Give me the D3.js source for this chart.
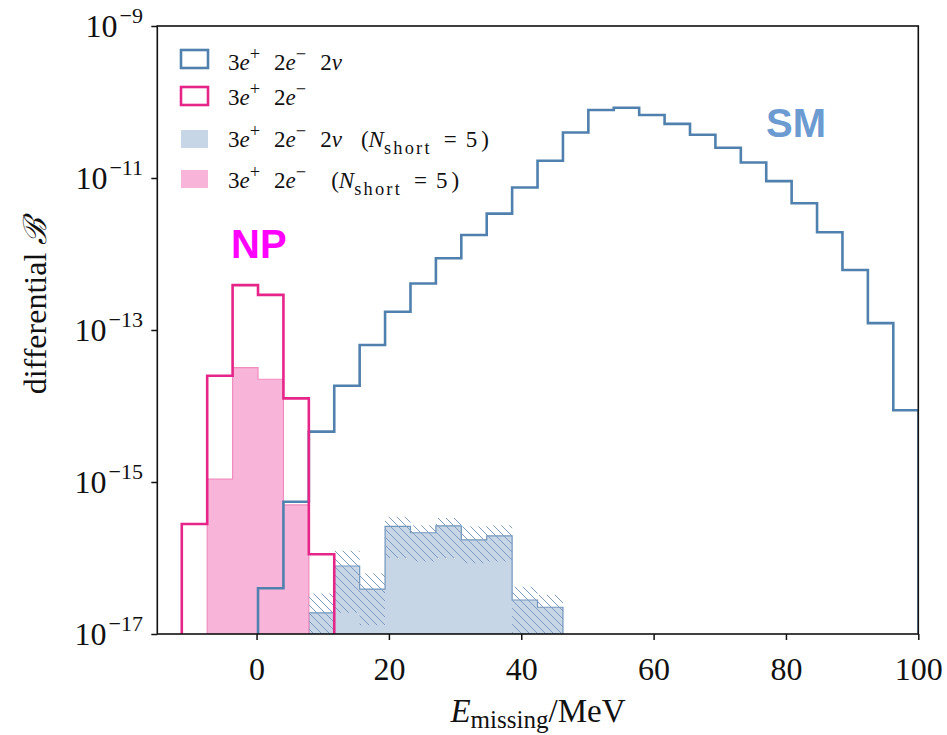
<!DOCTYPE html>
<html>
<head>
<meta charset="utf-8">
<script src="https://cdn.jsdelivr.net/npm/d3@7"></script>
<style>
  body { margin: 0; background: #fff; }
  text { font-family: "Liberation Serif", "DejaVu Serif", serif; fill: #111; }
</style>
</head>
<body>
<svg id="chart" width="947" height="735"></svg>
<script>
// bin edges of the histograms (MeV)
var binEdges = [-11.3, -7.46, -3.62, 0.22, 4.06, 7.9, 11.74, 15.58, 19.42, 23.26, 27.1,
    30.94, 34.78, 38.62, 42.46, 46.3, 50.14, 53.98, 57.82, 61.66, 65.5, 69.34, 73.18,
    77.02, 80.86, 84.7, 88.54, 92.38, 96.22, 100.06];

// 3e+ 2e- 2nu (SM), outline
var smValues = [null, null, null, 4.0e-17, 5.5e-16, 4.6e-15, 1.85e-14, 6.35e-14, 1.74e-13,
    4.1e-13, 8.8e-13, 1.78e-12, 3.4e-12, 7.5e-12, 1.69e-11, 3.97e-11, 7.85e-11, 8.4e-11,
    6.75e-11, 5.15e-11, 3.7e-11, 2.5e-11, 1.6e-11, 9.1e-12, 4.65e-12, 1.93e-12, 6.15e-13,
    1.23e-13, 8.8e-15];

// 3e+ 2e- (NP), outline
var npValues = [2.8e-16, 2.5e-14, 3.9e-13, 2.9e-13, 1.26e-14, 1.12e-16, null, null, null,
    null, null, null, null, null, null, null, null, null, null, null, null, null, null,
    null, null, null, null, null, null];

// 3e+ 2e- 2nu (N_short = 5), filled, with band
var smShortValues = [null, null, null, null, null, 1.9e-17, 7.85e-17, 3.9e-17, 2.6e-16,
    2.15e-16, 2.65e-16, 1.73e-16, 1.95e-16, 2.8e-17, 2.25e-17, null, null, null, null,
    null, null, null, null, null, null, null, null, null, null];
var smShortLower = [null, null, null, null, null, 1e-18, 1.9e-17, 1.3e-17, 1.0e-16,
    0.9e-16, 1.0e-16, 0.85e-16, 0.9e-16, 1e-18, 1e-18, null, null, null, null,
    null, null, null, null, null, null, null, null, null, null];
var smShortUpper = [null, null, null, null, null, 3.4e-17, 1.25e-16, 6.3e-17, 3.5e-16,
    2.7e-16, 3.35e-16, 2.6e-16, 2.7e-16, 4.2e-17, 3.25e-17, null, null, null, null,
    null, null, null, null, null, null, null, null, null, null];

// 3e+ 2e- (N_short = 5), filled
var npShortValues = [null, 1.09e-15, 3.2e-14, 2.25e-14, 5.0e-16, null, null, null, null,
    null, null, null, null, null, null, null, null, null, null, null, null, null, null,
    null, null, null, null, null, null];

var xTicks = [0, 20, 40, 60, 80, 100];
var yTickExps = [-9, -11, -13, -15, -17];

var colSM = '#5081ae', colNP = '#e62589', colSMfill = '#c6d6e6', colNPfill = '#f9b5d9';

var svg = d3.select('#chart');
var pl = 157.3, pr = 918.3, pt = 26, pb = 634;

var x = d3.scaleLinear().domain([-15, 100]).range([pl, pr]);
var y = d3.scaleLog().domain([1e-17, 1e-9]).range([pb, pt]).clamp(true);

var defs = svg.append('defs');
defs.append('clipPath').attr('id', 'plotclip')
    .append('rect').attr('x', pl).attr('y', pt)
    .attr('width', pr - pl).attr('height', pb - pt);
var hatch = defs.append('pattern').attr('id', 'hatch')
    .attr('patternUnits', 'userSpaceOnUse').attr('width', 8).attr('height', 8);
hatch.append('path')
    .attr('d', 'M-2,-2L10,10M-2,6L2,10M6,-2L10,2')
    .attr('stroke', '#7f9aba').attr('stroke-width', 1).attr('fill', 'none');

// consecutive non-null runs of a series
function runs(vals) {
    var out = [], cur = null;
    vals.forEach(function(v, i) {
        if (v == null) { cur = null; return; }
        if (!cur) { cur = []; out.push(cur); }
        cur.push(i);
    });
    return out;
}

function stepPoints(vals, run) {
    var pts = [[binEdges[run[0]], 1e-17]];
    run.forEach(function(i) {
        pts.push([binEdges[i], vals[i]], [binEdges[i + 1], vals[i]]);
    });
    pts.push([binEdges[run[run.length - 1] + 1], 1e-17]);
    return pts;
}

var line = d3.line().x(function(d) { return x(d[0]); }).y(function(d) { return y(d[1]); });
var band = d3.area().x(function(d) { return x(d[0]); })
    .y0(function(d) { return y(d[1]); }).y1(function(d) { return y(d[2]); });

var plot = svg.append('g').attr('clip-path', 'url(#plotclip)');

function drawFill(vals, fill, edge) {
    runs(vals).forEach(function(r) {
        plot.append('path').attr('d', line(stepPoints(vals, r)) + 'Z')
            .attr('fill', fill).attr('stroke', edge).attr('stroke-width', 1.2);
    });
}
function drawStep(vals, col) {
    runs(vals).forEach(function(r) {
        plot.append('path').attr('d', line(stepPoints(vals, r)))
            .attr('fill', 'none').attr('stroke', col).attr('stroke-width', 2.6)
            .attr('stroke-linejoin', 'miter');
    });
}

drawFill(smShortValues, colSMfill, '#7297bd');
drawFill(npShortValues, colNPfill, '#f08cc0');

runs(smShortLower).forEach(function(r) {
    var pts = [];
    r.forEach(function(i) {
        pts.push([binEdges[i], smShortLower[i], smShortUpper[i]],
                 [binEdges[i + 1], smShortLower[i], smShortUpper[i]]);
    });
    plot.append('path').attr('d', band(pts)).attr('fill', 'url(#hatch)').attr('stroke', 'none');
});

drawStep(smValues, colSM);
drawStep(npValues, colNP);

// axes
var xAxis = svg.append('g').attr('transform', 'translate(0,' + pb + ')')
    .call(d3.axisBottom(x).tickValues(xTicks).tickSize(6).tickPadding(17).tickFormat(d3.format('d')));
xAxis.select('.domain').remove();
xAxis.selectAll('line').attr('stroke', '#111').attr('stroke-width', 1.5);
xAxis.selectAll('text').attr('font-size', 32).style('font-family', '"Liberation Serif", serif').style('fill', '#111');

var yAxis = svg.append('g').attr('transform', 'translate(' + pl + ',0)')
    .call(d3.axisLeft(y).tickValues(yTickExps.map(function(e) { return Math.pow(10, e); }))
        .tickSize(6).tickFormat(''));
yAxis.select('.domain').remove();
yAxis.selectAll('line').attr('stroke', '#111').attr('stroke-width', 1.5);

yTickExps.forEach(function(e) {
    var t = svg.append('text').attr('x', 143).attr('y', y(Math.pow(10, e)) + 11)
        .attr('text-anchor', 'end').attr('font-size', 32);
    t.append('tspan').text('10');
    t.append('tspan').text('\u2212' + Math.abs(e)).attr('font-size', 22).attr('dy', -14).attr('dx', 2);
});

svg.append('rect').attr('x', pl).attr('y', pt)
    .attr('width', pr - pl).attr('height', pb - pt)
    .attr('fill', 'none').attr('stroke', '#111').attr('stroke-width', 1.6);

// math-like text helper
function mathText(sel, parts, size, scr, subOff) {
    var cur = 0;
    parts.forEach(function(p) {
        var off = p.sup ? -0.42 * size : (p.sub ? subOff * size : 0);
        var ts = sel.append('tspan').text(p.t)
            .attr('font-size', (p.sup || p.sub) ? size * scr : size)
            .attr('font-style', p.i ? 'italic' : 'normal');
        if (off - cur !== 0) ts.attr('dy', off - cur);
        if (p.dx) ts.attr('dx', p.dx);
        if (p.ls) ts.attr('letter-spacing', p.ls);
        cur = off;
    });
}

// axis labels
var xl = svg.append('text').attr('x', 538).attr('y', 722).attr('text-anchor', 'middle');
mathText(xl, [{t: 'E', i: true}, {t: 'missing', sub: true}, {t: '/MeV'}], 33, 0.76, 0.17);

var yl = svg.append('text').attr('transform', 'translate(46,306) rotate(-90)')
    .attr('text-anchor', 'middle').attr('font-size', 32);
yl.append('tspan').text('differential ');
yl.append('tspan').text('\u212C').style('font-family', '"DejaVu Serif", serif').attr('font-style', 'italic');

// legend
var pos = [{t: '+', sup: true}], neg = [{t: '\u2212', sup: true}];
var base = [{t: '3'}, {t: 'e', i: true}].concat(pos, [{t: '2', dx: 14}, {t: 'e', i: true}], neg);
var nu = [{t: '2', dx: 14}, {t: '\u03BD', i: true}];
function nshort(gap) {
    return [{t: '(', dx: gap}, {t: 'N', i: true}, {t: 'short', sub: true, ls: 2.2},
        {t: '=', dx: 12}, {t: '5', dx: 9}, {t: ')', dx: 4}];
}
var legendRows = [
    {kind: 'outline', col: colSM, y: 50, base: 70, parts: base.concat(nu)},
    {kind: 'outline', col: colNP, y: 87, base: 105, parts: base},
    {kind: 'fill', col: colSMfill, y: 130, base: 147, parts: base.concat(nu, nshort(19))},
    {kind: 'fill', col: colNPfill, y: 170, base: 188, parts: base.concat(nshort(25))}
];
legendRows.forEach(function(r) {
    var rect = svg.append('rect').attr('x', 181).attr('y', r.y).attr('width', 27).attr('height', 18);
    if (r.kind === 'outline') rect.attr('fill', 'none').attr('stroke', r.col).attr('stroke-width', 2.6);
    else rect.attr('fill', r.col);
    var t = svg.append('text').attr('x', 228).attr('y', r.base);
    mathText(t, r.parts, 23, 0.8, 0.3);
});

// annotations
svg.append('text').attr('x', 766).attr('y', 137).text('SM')
    .style('font-family', '"Liberation Sans", Arial, sans-serif').attr('font-weight', 'bold')
    .attr('font-size', 40).style('fill', '#6c9bd2');
svg.append('text').attr('x', 231).attr('y', 258).text('NP')
    .style('font-family', '"Liberation Sans", Arial, sans-serif').attr('font-weight', 'bold')
    .attr('font-size', 40).style('fill', '#ff00ff');
</script>
</body>
</html>
